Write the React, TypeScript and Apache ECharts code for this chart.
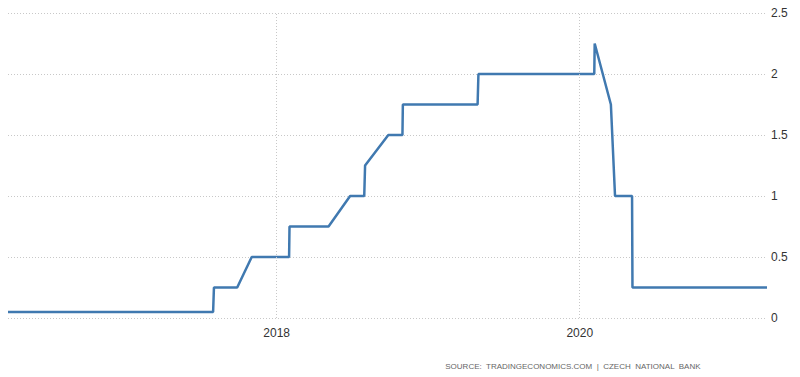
import React, { useEffect, useRef } from "react";
import * as echarts from "echarts";

const dates: string[] = [
  "2016-03-25", "2017-08-01", "2017-08-03", "2017-09-28", "2017-11-02",
  "2018-01-31", "2018-02-01", "2018-05-06", "2018-06-27", "2018-07-31",
  "2018-08-02", "2018-09-27", "2018-10-31", "2018-11-01", "2019-04-30",
  "2019-05-02", "2020-02-05", "2020-02-06", "2020-03-16", "2020-03-26",
  "2020-05-06", "2020-05-07", "2021-03-27",
];
const rates: number[] = [
  0.05, 0.05, 0.25, 0.25, 0.5,
  0.5, 0.75, 0.75, 1.0, 1.0,
  1.25, 1.5, 1.5, 1.75, 1.75,
  2.0, 2.0, 2.25, 1.75, 1.0,
  1.0, 0.25, 0.25,
];
const labeledYears: number[] = [2018, 2020];
const sourceText = "SOURCE:  TRADINGECONOMICS.COM  |  CZECH  NATIONAL  BANK";

export default function App() {
  const ref = useRef<HTMLDivElement>(null);
  useEffect(() => {
    if (!ref.current) return;
    const chart = echarts.init(ref.current, undefined, { renderer: "svg" });
    const seriesData = dates.map((d, i) => [d, rates[i]]);
    chart.setOption({
      animation: false,
      grid: { left: 8, right: 33, top: 13, bottom: 59, containLabel: false },
      xAxis: {
        type: "time",
        min: dates[0],
        max: dates[dates.length - 1],
        minInterval: 365 * 24 * 3600 * 1000,
        axisLine: { show: false },
        axisTick: { show: false },
        splitLine: { show: false },
        axisLabel: {
          color: "#333",
          fontSize: 12,
          fontFamily: "Liberation Sans, Arial, sans-serif",
          margin: 9,
          hideOverlap: false,
          formatter: (v: number) => {
            const d = new Date(v);
            const y = d.getFullYear();
            if (d.getMonth() === 0 && d.getDate() === 1 && labeledYears.includes(y)) return String(y);
            return "";
          },
        },
      },
      yAxis: {
        type: "value",
        position: "right",
        min: 0,
        max: 2.5,
        interval: 0.5,
        axisLine: { show: false },
        axisTick: { show: false },
        axisLabel: {
          color: "#333",
          fontSize: 12,
          fontFamily: "Liberation Sans, Arial, sans-serif",
          margin: 4,
        },
        splitLine: { lineStyle: { color: "#c8c8c8", type: [1, 2], width: 1 } },
      },
      series: [
        {
          type: "line",
          data: seriesData,
          showSymbol: false,
          symbol: "none",
          lineStyle: { color: "#4079b0", width: 2.5 },
          markLine: {
            silent: true,
            symbol: "none",
            label: { show: false },
            lineStyle: { color: "#c8c8c8", type: [1, 2], width: 1 },
            data: labeledYears.map((y) => ({ xAxis: `${y}-01-01` })),
          },
        },
      ],
      graphic: [
        {
          type: "text",
          right: 99,
          top: 362,
          style: {
            text: sourceText,
            fill: "#666",
            fontSize: 8,
            fontFamily: "Liberation Sans, Arial, sans-serif",
          },
        },
      ],
    });
    return () => chart.dispose();
  }, []);
  return (
    <div
      ref={ref}
      style={{ position: "absolute", left: 0, top: 0, width: 800, height: 377 }}
    />
  );
}
